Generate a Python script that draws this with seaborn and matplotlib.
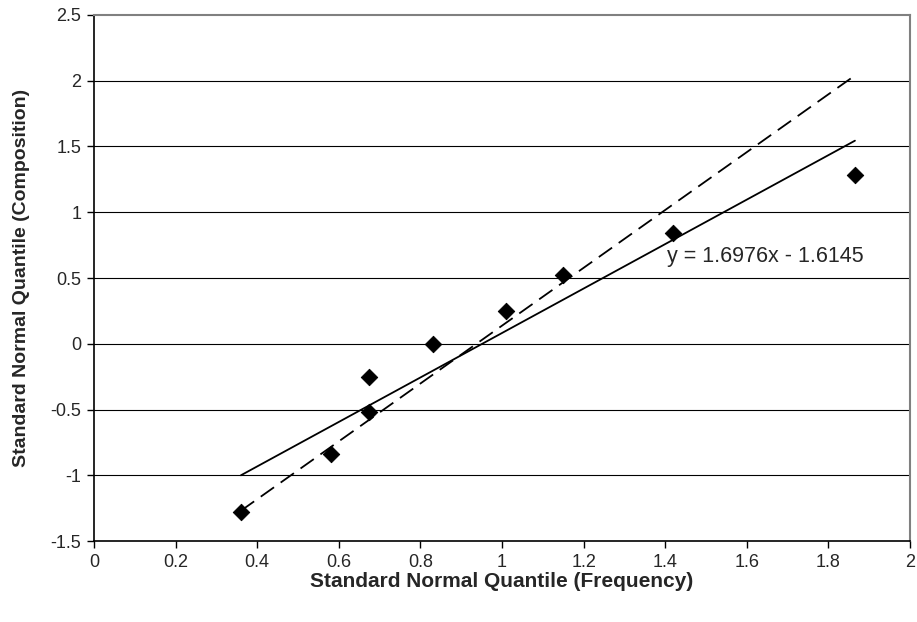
import matplotlib as mpl
mpl.use('Agg')
import matplotlib.pyplot as plt
import seaborn as sns
import pandas as pd

# data
freq_q = [0.36, 0.58, 0.675, 0.675, 0.83, 1.01, 1.15, 1.42, 1.865]
comp_q = [-1.28, -0.84, -0.52, -0.25, 0.0, 0.25, 0.52, 0.84, 1.28]
dash_x = [0.36, 1.865]
dash_y = [-1.27, 2.04]
fit_label = 'y = 1.6976x - 1.6145'

x_ticks = [0, 0.2, 0.4, 0.6, 0.8, 1, 1.2, 1.4, 1.6, 1.8, 2]
x_ticklabels = ['0', '0.2', '0.4', '0.6', '0.8', '1', '1.2', '1.4', '1.6', '1.8', '2']
y_ticks = [-1.5, -1, -0.5, 0, 0.5, 1, 1.5, 2, 2.5]
y_ticklabels = ['-1.5', '-1', '-0.5', '0', '0.5', '1', '1.5', '2', '2.5']

sns.set_style('white')
plt.rcParams['font.family'] = ['Liberation Sans', 'DejaVu Sans']

df = pd.DataFrame({'freq': freq_q, 'comp': comp_q})
dash_df = pd.DataFrame({'x': dash_x, 'y': dash_y})

fig = plt.figure(figsize=(9.17, 6.22), dpi=100)
ax = fig.add_axes([0.1025, 0.1302, 0.8899, 0.8457])

for yv in y_ticks[1:-1]:
    ax.axhline(yv, color='black', lw=0.8, zorder=0)

sns.lineplot(data=dash_df, x='x', y='y', ax=ax, color='black', lw=1.3,
             zorder=2).lines[-1].set_dashes((9, 4.5))
sns.regplot(data=df, x='freq', y='comp', ax=ax, ci=None, truncate=True,
            scatter=False, line_kws={'color': 'black', 'lw': 1.3, 'zorder': 2})
sns.scatterplot(data=df, x='freq', y='comp', ax=ax, marker='D', s=70,
                color='black', edgecolor='black', zorder=3)

ax.text(1.405, 0.66, fit_label, fontsize=15.5, va='center', ha='left')

ax.set_xlim(0, 2)
ax.set_ylim(-1.5, 2.5)
ax.set_xticks(x_ticks)
ax.set_xticklabels(x_ticklabels, fontsize=13)
ax.set_yticks(y_ticks)
ax.set_yticklabels(y_ticklabels, fontsize=13)
ax.tick_params(direction='out', length=5, width=1, color='black',
               bottom=True, left=True, pad=4)

ax.set_xlabel('Standard Normal Quantile (Frequency)', fontsize=15,
              fontweight='bold', labelpad=1)
ax.set_ylabel('Standard Normal Quantile (Composition)', fontsize=14,
              fontweight='bold', labelpad=15)

for side in ['top', 'right']:
    ax.spines[side].set_color('#808080')
    ax.spines[side].set_linewidth(1.5)
for side in ['left', 'bottom']:
    ax.spines[side].set_color('black')
    ax.spines[side].set_linewidth(1.2)

plt.savefig('out.png', dpi=100)
plt.close()
